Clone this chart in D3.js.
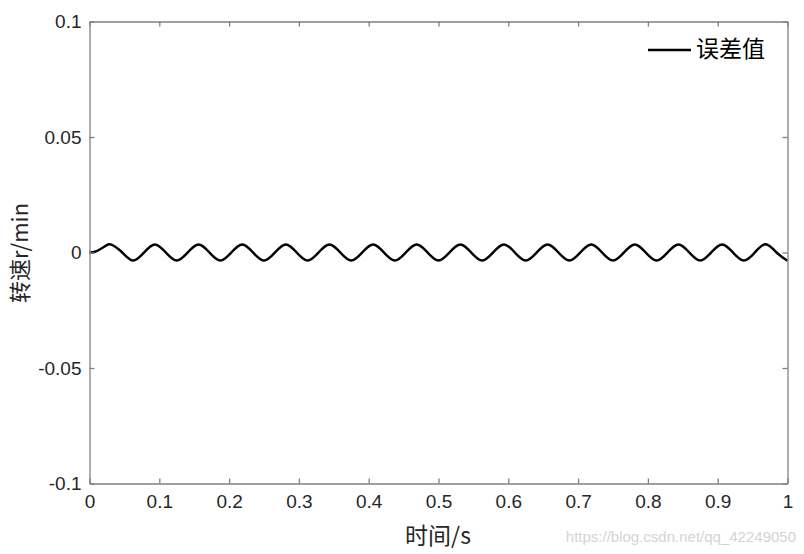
<!DOCTYPE html>
<html><head><meta charset="utf-8">
<script src="https://cdn.jsdelivr.net/npm/d3@7/dist/d3.min.js"></script>
<style>body{margin:0;background:#fff;} svg{display:block;}</style>
</head><body>
<svg id="chart" width="804" height="554"></svg>
<script>
// time samples (s), read at quarter-period points of the oscillation
const timeValues = [
  0, 0.0078, 0.0156, 0.0234, 0.0313, 0.0469, 0.0625, 0.0781, 0.0938, 0.1094, 0.125,
  0.1406, 0.1563, 0.1719, 0.1875, 0.2031, 0.2188, 0.2344, 0.25,
  0.2656, 0.2813, 0.2969, 0.3125, 0.3281, 0.3438, 0.3594, 0.375,
  0.3906, 0.4063, 0.4219, 0.4375, 0.4531, 0.4688, 0.4844, 0.5,
  0.5156, 0.5313, 0.5469, 0.5625, 0.5781, 0.5938, 0.6094, 0.625,
  0.6406, 0.6563, 0.6719, 0.6875, 0.7031, 0.7188, 0.7344, 0.75,
  0.7656, 0.7813, 0.7969, 0.8125, 0.8281, 0.8438, 0.8594, 0.875,
  0.8906, 0.9063, 0.9219, 0.9375, 0.9531, 0.9688, 0.9844, 1.0
];
// error values (r/min)
const errorValues = [
  0, 0.0003, 0.0015, 0.0029, 0.0034, 0, -0.0035, 0, 0.0035, 0, -0.0035,
  0, 0.0035, 0, -0.0035, 0, 0.0035, 0, -0.0035,
  0, 0.0035, 0, -0.0035, 0, 0.0035, 0, -0.0035,
  0, 0.0035, 0, -0.0035, 0, 0.0035, 0, -0.0035,
  0, 0.0035, 0, -0.0035, 0, 0.0035, 0, -0.0035,
  0, 0.0035, 0, -0.0035, 0, 0.0035, 0, -0.0035,
  0, 0.0035, 0, -0.0035, 0, 0.0035, 0, -0.0035,
  0, 0.0035, 0, -0.0035, 0, 0.0036, 0, -0.0036
];
const xTicks = [0, 0.1, 0.2, 0.3, 0.4, 0.5, 0.6, 0.7, 0.8, 0.9, 1];
const xTickLabels = ["0", "0.1", "0.2", "0.3", "0.4", "0.5", "0.6", "0.7", "0.8", "0.9", "1"];
const yTicks = [-0.1, -0.05, 0, 0.05, 0.1];
const yTickLabels = ["-0.1", "-0.05", "0", "0.05", "0.1"];
const seriesName = "误差值";
const xTitle = "时间/s";
const yTitle = "转速r/min";
const watermark = "https://blog.csdn.net/qq_42249050";

const svg = d3.select("#chart");
const L = 89.5, R = 787.5, T = 21.5, B = 483.5;
const x = d3.scaleLinear().domain([0, 1]).range([L, R]);
const y = d3.scaleLinear().domain([-0.1, 0.1]).range([B, T]);
const axisColor = "#808080";
const textColor = "#262626";
const tickFont = "Liberation Sans, Arial, sans-serif";
const cjkFont = "Noto Sans CJK SC, sans-serif";

// data line
const data = timeValues.map((t, i) => ({t, v: errorValues[i]}));
const line = d3.line().x(d => x(d.t)).y(d => y(d.v)).curve(d3.curveNatural);
svg.append("path").datum(data).attr("d", line)
  .attr("fill", "none").attr("stroke", "#000").attr("stroke-width", 2.5);

// axes
const tl = 5;
const fmtX = d => xTickLabels[xTicks.indexOf(d)];
const fmtY = d => yTickLabels[yTicks.indexOf(d)];
const gxB = svg.append("g").attr("transform", `translate(0,${B})`)
  .call(d3.axisBottom(x).tickValues(xTicks).tickFormat(fmtX).tickSizeInner(-tl).tickSizeOuter(0).tickPadding(11));
const gxT = svg.append("g").attr("transform", `translate(0,${T})`)
  .call(d3.axisTop(x).tickValues(xTicks).tickFormat("").tickSizeInner(-tl).tickSizeOuter(0));
const gyL = svg.append("g").attr("transform", `translate(${L},0)`)
  .call(d3.axisLeft(y).tickValues(yTicks).tickFormat(fmtY).tickSizeInner(-tl).tickSizeOuter(0).tickPadding(8));
const gyR = svg.append("g").attr("transform", `translate(${R},0)`)
  .call(d3.axisRight(y).tickValues(yTicks).tickFormat("").tickSizeInner(-tl).tickSizeOuter(0));
[gxB, gxT, gyL, gyR].forEach(g => {
  g.selectAll("path.domain").attr("stroke", axisColor).attr("stroke-width", 1.3);
  g.selectAll(".tick line").attr("stroke", axisColor).attr("stroke-width", 1.3);
  g.selectAll(".tick text").attr("fill", textColor).style("font-family", tickFont).style("font-size", "19px");
});

// axis titles
svg.append("text").attr("x", 438).attr("y", 538).attr("text-anchor", "middle")
  .attr("dominant-baseline", "middle")
  .style("font-family", cjkFont).style("font-size", "23px").attr("fill", textColor).text(xTitle);
svg.append("text").attr("transform", "translate(20,253) rotate(-90)").attr("text-anchor", "middle")
  .attr("y", 8)
  .style("font-family", cjkFont).style("font-size", "22px").attr("fill", textColor).text(yTitle);

// legend
svg.append("line").attr("x1", 648).attr("x2", 691).attr("y1", 50).attr("y2", 50)
  .attr("stroke", "#000").attr("stroke-width", 2.5);
svg.append("text").attr("x", 696).attr("y", 51).attr("dominant-baseline", "middle")
  .style("font-family", cjkFont).style("font-size", "23px").attr("fill", "#000").text(seriesName);

// watermark
svg.append("text").attr("x", 796).attr("y", 538).attr("text-anchor", "end")
  .attr("dominant-baseline", "middle")
  .style("font-family", tickFont).style("font-size", "15px").attr("fill", "#d4d4d4").text(watermark);
</script>
</body></html>
